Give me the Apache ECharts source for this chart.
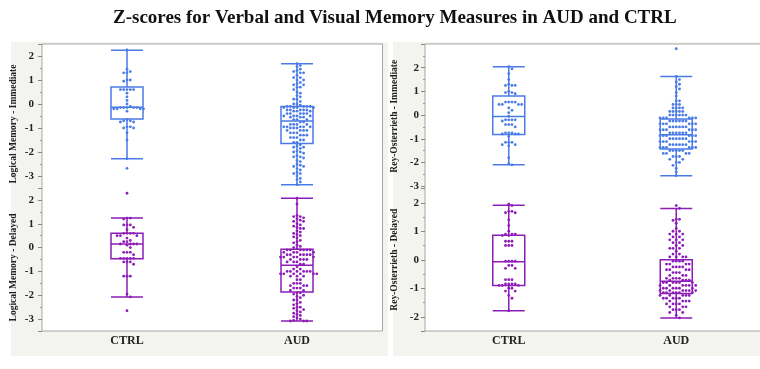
<!DOCTYPE html>
<html><head><meta charset="utf-8">
<script src="https://cdn.jsdelivr.net/npm/echarts@6/dist/echarts.min.js"></script>
<style>html,body{margin:0;padding:0;background:#fff}#c{width:760px;height:369px}</style>
</head><body><div id="c"></div>
<script>
const titleText = 'Z-scores for Verbal and Visual Memory Measures in AUD and CTRL';
const categories = ['CTRL', 'AUD'];
const yNames = ['Logical Memory - Immediate', 'Logical Memory - Delayed', 'Rey-Osterrieth - Immediate', 'Rey-Osterrieth - Delayed'];

// box stats: [lower whisker, Q1, median, Q3, upper whisker] for CTRL, AUD
const boxLMImm = [[-2.28, -0.63, -0.14, 0.71, 2.24], [-3.36, -1.65, -0.71, -0.10, 1.68]];
const boxLMDel = [[-2.07, -0.47, 0.15, 0.60, 1.24], [-3.08, -1.86, -0.74, -0.07, 2.07]];
const boxROImm = [[-2.10, -0.82, -0.06, 0.81, 2.04], [-2.56, -1.43, -0.83, -0.17, 1.63]];
const boxRODel = [[-1.79, -0.90, -0.07, 0.86, 1.91], [-2.04, -1.18, -0.75, 0.00, 1.80]];

// individual z-scores
const lmImmCtrl = [2.25, 1.45, 1.35, 1.3, 1.3, 1.0, 1.0, 0.95, 0.6, 0.6, 0.6, 0.6, 0.6, 0.45, 0.3, 0.15, 0.0, -0.1,
  -0.15, -0.15, -0.15, -0.15, -0.15, -0.2, -0.2, -0.2, -0.2, -0.3, -0.65, -0.7, -0.7, -0.75, -0.75, -0.95, -0.95,
  -1.0, -1.0, -1.2, -1.5, -2.28, -2.68];
const lmImmAud = [1.68, 1.6, 1.55, 1.45, 1.4, 1.35, 1.3, 1.3, 1.2, 1.1, 1.1, 1.0, 1.0, 0.9, 0.85, 0.8, 0.8, 0.7, 0.7,
  0.6, 0.5, 0.45, 0.35, 0.3, 0.2, 0.2, 0.1, 0.0, 0.0, -0.05,
  -0.1, -0.1, -0.1, -0.1, -0.1, -0.15, -0.15, -0.15, -0.15, -0.25, -0.25, -0.25, -0.25, -0.25, -0.3, -0.3, -0.3,
  -0.4, -0.4, -0.4, -0.4, -0.4, -0.5, -0.5, -0.5, -0.5, -0.55, -0.55, -0.55, -0.65, -0.65, -0.65,
  -0.75, -0.75, -0.85, -0.85, -0.85, -0.85, -0.95, -0.95, -0.95, -0.95, -0.95, -1.0, -1.0, -1.0, -1.1, -1.1, -1.1, -1.1,
  -1.2, -1.2, -1.2, -1.3, -1.3, -1.3, -1.4, -1.4, -1.4, -1.5, -1.5, -1.6, -1.6,
  -1.7, -1.75, -1.8, -1.8, -1.85, -1.95, -2.0, -2.0, -2.05, -2.15, -2.2, -2.2, -2.25, -2.35, -2.4, -2.5, -2.55, -2.6,
  -2.6, -2.7, -2.75, -2.85, -2.9, -2.9, -3.0, -3.1, -3.15, -3.25, -3.36];
const lmDelCtrl = [2.28, 1.24, 1.24, 1.2, 0.95, 0.95, 0.95, 0.85, 0.75, 0.6, 0.6, 0.6, 0.6, 0.5, 0.5, 0.5, 0.4, 0.3,
  0.25, 0.25, 0.15, 0.15, 0.15, 0.15, 0.1, 0.0, -0.2, -0.2, -0.2, -0.3, -0.45, -0.45, -0.45, -0.45, -0.45, -0.6, -0.6,
  -0.6, -0.7, -1.2, -1.2, -1.2, -1.95, -2.07, -2.65];
const lmDelAud = [2.07, 1.83, 1.35, 1.3, 1.3, 1.25, 1.2, 1.15, 1.1, 1.1, 1.0, 0.95, 0.9, 0.85, 0.8, 0.8, 0.7, 0.65, 0.6,
  0.55, 0.5, 0.45, 0.4, 0.3, 0.25, 0.2, 0.1, 0.05, 0.0, -0.05,
  -0.1, -0.1, -0.1, -0.1, -0.1, -0.1, -0.2, -0.2, -0.2, -0.2, -0.3, -0.3, -0.3, -0.3, -0.3, -0.3, -0.4, -0.4, -0.4,
  -0.4, -0.4, -0.5, -0.5, -0.5, -0.5, -0.6, -0.6, -0.6, -0.7, -0.7,
  -0.8, -0.9, -0.9, -1.0, -1.0, -1.0, -1.0, -1.0, -1.0, -1.1, -1.1, -1.1, -1.1, -1.1, -1.1, -1.2, -1.2, -1.2, -1.35,
  -1.35, -1.5, -1.5, -1.5, -1.6, -1.6, -1.6, -1.7, -1.7, -1.7, -1.8, -1.8,
  -1.9, -1.9, -1.95, -2.0, -2.05, -2.1, -2.2, -2.2, -2.3, -2.35, -2.4, -2.5, -2.5, -2.55, -2.6, -2.65, -2.7, -2.75,
  -2.8, -2.85, -2.9, -2.95, -3.0, -3.05, -3.08, -3.08, -3.08];
const roImmCtrl = [2.04, 1.95, 1.75, 1.5, 1.3, 1.25, 1.25, 1.25, 1.0, 0.95, 0.95, 0.9, 0.55, 0.55, 0.55, 0.55, 0.45,
  0.45, 0.45, 0.45, 0.3, 0.2, 0.1, -0.05, -0.2, -0.2, -0.2, -0.2, -0.25, -0.4, -0.4, -0.4, -0.5, -0.75, -0.75, -0.75,
  -0.8, -0.8, -0.8, -0.9, -1.15, -1.15, -1.15, -1.25, -1.25, -1.3, -1.8, -2.05, -2.1];
const roImmAud = [2.8, 1.63, 1.5, 1.4, 1.3, 1.2, 1.1, 0.95, 0.8, 0.6, 0.6, 0.45, 0.45, 0.45, 0.3, 0.3, 0.3, 0.3,
  0.15, 0.15, 0.15, 0.15, 0.15, 0.0, 0.0, 0.0, 0.0, 0.0, 0.0, -0.12, -0.12, -0.12, -0.12, -0.12, -0.12,
  -0.25, -0.25, -0.25, -0.25, -0.25, -0.25, -0.37, -0.37, -0.37, -0.37, -0.37, -0.37, -0.5, -0.5, -0.5, -0.5, -0.5,
  -0.5, -0.62, -0.62, -0.62, -0.62, -0.62, -0.62, -0.75, -0.75, -0.75, -0.75, -0.75, -0.75,
  -0.87, -0.87, -0.87, -0.87, -0.87, -0.87, -1.0, -1.0, -1.0, -1.0, -1.0, -1.0, -1.12, -1.12, -1.12, -1.12, -1.12,
  -1.12, -1.25, -1.25, -1.25, -1.25, -1.25, -1.25, -1.37, -1.37, -1.37, -1.37, -1.37, -1.37,
  -1.5, -1.5, -1.5, -1.5, -1.5, -1.62, -1.62, -1.62, -1.62, -1.75, -1.75, -1.75, -1.87, -1.87, -2.0, -2.0, -2.12,
  -2.25, -2.4, -2.56];
const roDelCtrl = [1.95, 1.9, 1.7, 1.7, 1.65, 1.65, 1.4, 1.2, 1.0, 0.9, 0.9, 0.9, 0.85, 0.85, 0.65, 0.65, 0.65, 0.5,
  0.5, 0.5, -0.05, -0.05, -0.05, -0.05, -0.2, -0.2, -0.3, -0.3, -0.7, -0.7, -0.7, -0.85, -0.85, -0.85, -0.85, -0.9,
  -0.9, -0.9, -1.0, -1.0, -1.1, -1.1, -1.25, -1.35, -1.79];
const roDelAud = [1.9, 1.8, 1.42, 1.42, 1.38, 1.28, 1.1, 1.0, 1.0, 0.9, 0.9, 0.9, 0.8, 0.8, 0.7, 0.7, 0.7, 0.6, 0.6,
  0.5, 0.5, 0.4, 0.4, 0.4, 0.3, 0.2, 0.2, 0.1, 0.1, 0.1, 0.1,
  -0.05, -0.05, -0.05, -0.05, -0.15, -0.15, -0.15, -0.15, -0.25, -0.25, -0.25, -0.25, -0.35, -0.35, -0.35, -0.35,
  -0.45, -0.45, -0.45, -0.55, -0.55, -0.55, -0.65, -0.65, -0.65, -0.65, -0.72, -0.72, -0.72, -0.72,
  -0.8, -0.8, -0.8, -0.8, -0.8, -0.8, -0.9, -0.9, -0.9, -0.9, -0.9, -0.9, -1.0, -1.0, -1.0, -1.0, -1.0, -1.0,
  -1.08, -1.08, -1.08, -1.08, -1.08, -1.08, -1.15, -1.15, -1.15, -1.15, -1.15, -1.15,
  -1.25, -1.25, -1.25, -1.25, -1.25, -1.35, -1.35, -1.35, -1.35, -1.35, -1.45, -1.45, -1.45, -1.45, -1.55, -1.55,
  -1.55, -1.55, -1.65, -1.65, -1.65, -1.75, -1.75, -1.75, -1.85, -1.85, -1.95, -2.04];

const BLUE = '#4a7be6', PURPLE = '#8d1db7';
const FONT = 'Liberation Serif';

const grids = [
  {left: 42, top: 44, width: 340, height: 144},
  {left: 42, top: 188, width: 340, height: 143},
  {left: 425, top: 44, width: 341, height: 144.5},
  {left: 425, top: 188.5, width: 341, height: 142.5}
];
const yRanges = [[-3.5, 2.5], [-3.5, 2.5], [-3.1, 3.0], [-2.5, 2.5]];
const panels = [
  {box: boxLMImm, pts: [lmImmCtrl, lmImmAud], color: BLUE},
  {box: boxLMDel, pts: [lmDelCtrl, lmDelAud], color: PURPLE},
  {box: boxROImm, pts: [roImmCtrl, roImmAud], color: BLUE},
  {box: boxRODel, pts: [roDelCtrl, roDelAud], color: PURPLE}
];

// deterministic beeswarm: place each point at the nearest free horizontal slot
function swarm(vals, cat, pxPerUnitY, pxPerCat) {
  const step = 3.3, diam = 3.1;
  const placed = [];
  const out = [];
  vals.forEach(v => {
    const y = v * pxPerUnitY;
    let k = 0, x = 0;
    while (true) {
      const m = Math.ceil(k / 2) * (k % 2 === 1 ? 1 : -1);
      x = m * step;
      const hit = placed.some(p => (p[0] - x) ** 2 + (p[1] - y) ** 2 < diam * diam);
      if (!hit) break;
      k++;
    }
    placed.push([x, y]);
    out.push([cat + x / pxPerCat, v]);
  });
  return out;
}

const xAxis = [], yAxis = [], series = [];
grids.forEach((g, i) => {
  const bottom = (i === 1 || i === 3);
  xAxis.push({
    type: 'category', gridIndex: i, data: categories,
    axisLine: {show: false, onZero: false}, axisTick: {show: false}, splitLine: {show: false},
    axisLabel: {show: bottom, fontFamily: FONT, fontWeight: 'bold', fontSize: 12, color: '#222', margin: 4}
  });
  xAxis.push({type: 'value', gridIndex: i, min: -0.5, max: 1.5, show: false, axisLine: {onZero: false}});
  const left = i < 2;
  yAxis.push({
    type: 'value', gridIndex: i, min: yRanges[i][0], max: yRanges[i][1], splitNumber: 6, position: 'left',
    name: yNames[i], nameLocation: 'middle', nameRotate: 90, nameGap: left ? 23 : 25,
    nameTextStyle: {fontFamily: FONT, fontWeight: 'bold', fontSize: 9.5, color: '#222',
      padding: left ? [0, 16, 0, 0] : [0, 0, 0, 0]},
    axisLine: {show: false, onZero: false},
    axisTick: {show: true, length: 4, lineStyle: {color: '#888'}},
    minorTick: {show: true, splitNumber: 2, length: 2, lineStyle: {color: '#999'}},
    splitLine: {show: false}, minorSplitLine: {show: false},
    axisLabel: {showMinLabel: false, showMaxLabel: false, fontFamily: FONT, fontWeight: 'bold', fontSize: 11,
      color: '#222', margin: left ? 8 : 6,
      formatter: v => (Math.abs(v - Math.round(v)) < 1e-9 ? String(Math.round(v)) : '')}
  });
  const p = panels[i];
  series.push({
    type: 'boxplot', xAxisIndex: 2 * i, yAxisIndex: i, data: p.box, boxWidth: [32, 32],
    itemStyle: {color: 'rgba(255,255,255,0)', borderColor: p.color, borderWidth: 1.5},
    emphasis: {disabled: true}, silent: true, z: 2
  });
  const pxY = g.height / (yRanges[i][1] - yRanges[i][0]);
  const pxCat = g.width / 2;
  p.pts.forEach((arr, c) => {
    series.push({
      type: 'scatter', xAxisIndex: 2 * i + 1, yAxisIndex: i,
      data: swarm(arr, c, pxY, pxCat), symbolSize: 2.8,
      itemStyle: {color: p.color, opacity: 1}, emphasis: {disabled: true}, silent: true, z: 3
    });
  });
});

const chart = echarts.init(document.getElementById('c'), null, {renderer: 'canvas'});
chart.setOption({
  animation: false,
  backgroundColor: '#ffffff',
  title: {text: titleText, left: 108, top: 4,
    textStyle: {fontFamily: FONT, fontWeight: 'bold', fontSize: 19, color: '#111'}},
  graphic: [
    {type: 'rect', z: -10, shape: {x: 11, y: 42, width: 377, height: 314}, style: {fill: '#f3f3ef'}},
    {type: 'rect', z: -10, shape: {x: 393, y: 42, width: 367, height: 314}, style: {fill: '#f3f3ef'}},
    {type: 'rect', z: -9, shape: {x: 42, y: 44, width: 340.5, height: 287}, style: {fill: '#fff', stroke: '#a6a6a6', lineWidth: 1}},
    {type: 'rect', z: -9, shape: {x: 425, y: 44, width: 345, height: 287}, style: {fill: '#fff', stroke: '#a6a6a6', lineWidth: 1}}
  ],
  grid: grids,
  xAxis, yAxis, series
});
</script></body></html>
